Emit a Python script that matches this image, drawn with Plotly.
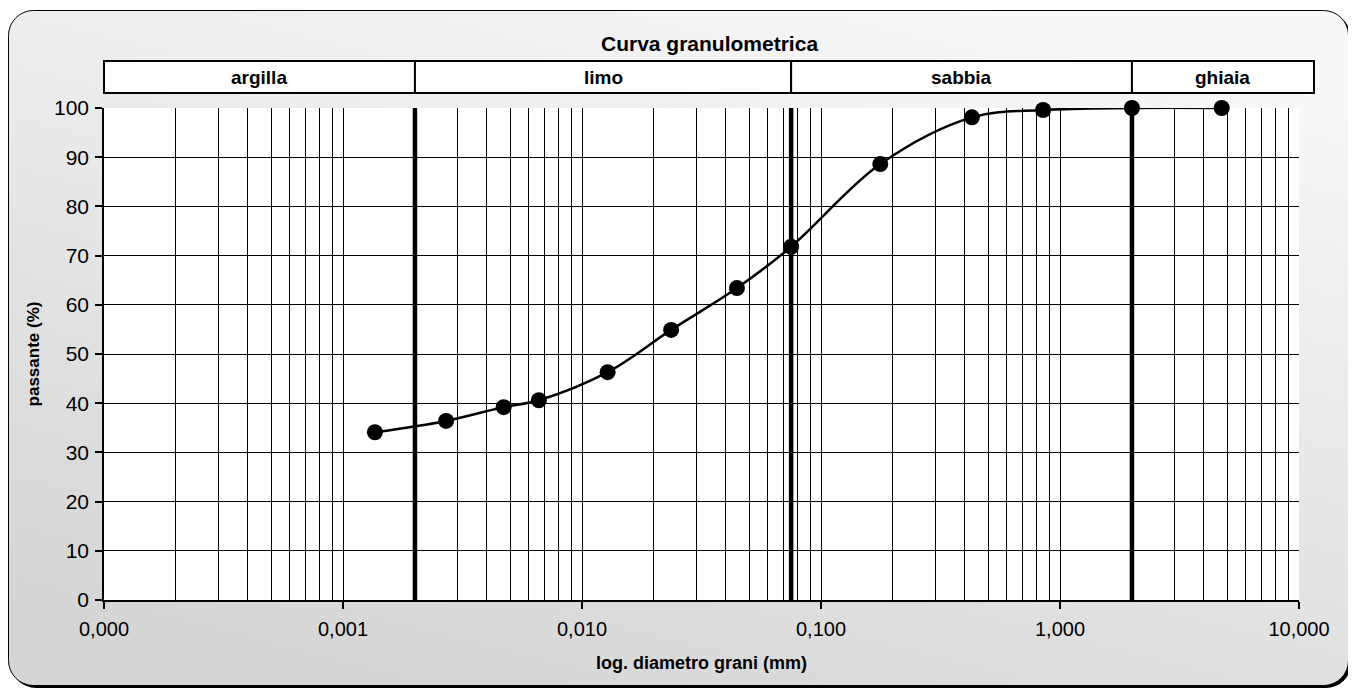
import base64
import math
import plotly.graph_objects as go

# ---------------- data ----------------
diametro_mm = [0.00136, 0.0027, 0.0047, 0.0066, 0.0128, 0.0236, 0.0445, 0.075,
               0.177, 0.428, 0.85, 2.0, 4.75]
passante_pct = [34.1, 36.4, 39.2, 40.6, 46.3, 54.9, 63.4, 71.8,
                88.6, 98.1, 99.6, 100.0, 100.0]

classi = ["argilla", "limo", "sabbia", "ghiaia"]
limiti_classi = [0.002, 0.075, 2.0]          # class boundaries (mm)
decadi = [0.0001, 0.001, 0.01, 0.1, 1, 10]
decadi_label = ["0,000", "0,001", "0,010", "0,100", "1,000", "10,000"]
y_ticks = list(range(0, 101, 10))

title = "Curva granulometrica"
x_title = "log. diametro grani (mm)"
y_title = "passante (%)"

# ---------------- geometry ----------------
W, H = 1356, 689
OFF = 8                      # page body margin
ML, MR, MT, MB = 96, 65, 100, 97
PW, PH = W - ML - MR, H - MT - MB
XMIN, XMAX = -4, 1


def xp(v):
    """value (mm) -> paper x through the log axis range"""
    return (math.log10(v) - XMIN) / (XMAX - XMIN)


def px_x(px):
    return (px - OFF - ML) / PW


def px_y(py):
    return (H - MB - (py - OFF)) / PH


SANS = "Liberation Sans, Arial, sans-serif"

# background frame as an svg image (gradient + rounded border + shadow)
svg = f"""<svg xmlns='http://www.w3.org/2000/svg' width='{W}' height='{H}' viewBox='0 0 {W} {H}' preserveAspectRatio='none'>
<defs><linearGradient id='g' x1='0.25' y1='1' x2='0.75' y2='0'>
<stop offset='0' stop-color='#d5d5d5'/><stop offset='1' stop-color='#f8f8f8'/></linearGradient></defs>
<rect x='3' y='5' width='1340' height='675' rx='25' ry='25' fill='#000'/>
<rect x='0.5' y='2.5' width='1340' height='675' rx='25' ry='25' fill='url(#g)' stroke='#000' stroke-width='1'/>
</svg>"""
svg_uri = "data:image/svg+xml;base64," + base64.b64encode(svg.encode()).decode()

minor_vals = [m * d for d in decadi[:-1] for m in range(2, 10)]

fig = go.Figure()

# thick class boundary lines
for b in limiti_classi:
    fig.add_trace(go.Scatter(x=[b, b], y=[0, 100], mode="lines",
                             line=dict(color="black", width=4.5),
                             hoverinfo="skip", showlegend=False))

# grading curve
fig.add_trace(go.Scatter(x=diametro_mm, y=passante_pct, mode="lines+markers",
                         line=dict(color="black", width=2.5, shape="spline", smoothing=1.0),
                         marker=dict(color="black", size=16),
                         cliponaxis=False, showlegend=False))

shapes = [
    # white plot area above the background image
    dict(type="rect", xref="paper", yref="paper", x0=0, x1=1, y0=0, y1=1,
         fillcolor="white", line=dict(width=0), layer="below"),
]

# header class boxes
box_y0, box_y1 = px_y(93), px_y(61)
edges = [0.0, xp(limiti_classi[0]), xp(limiti_classi[1]), xp(limiti_classi[2]), px_x(1314)]
annotations = []
for i, name in enumerate(classi):
    shapes.append(dict(type="rect", xref="paper", yref="paper",
                       x0=edges[i], x1=edges[i + 1], y0=box_y0, y1=box_y1,
                       fillcolor="white", line=dict(color="black", width=2), layer="above"))
    annotations.append(dict(text=name, xref="paper", yref="paper",
                            x=(edges[i] + edges[i + 1]) / 2, y=(box_y0 + box_y1) / 2,
                            xanchor="center", yanchor="middle", showarrow=False,
                            font=dict(family=SANS, size=19, color="black", weight="bold")))

annotations.append(dict(text=title, xref="paper", yref="paper",
                        x=(edges[0] + edges[-1]) / 2, y=px_y(44),
                        xanchor="center", yanchor="middle", showarrow=False,
                        font=dict(family=SANS, size=21, color="black", weight="bold")))

fig.update_layout(
    width=W, height=H,
    margin=dict(l=ML, r=MR, t=MT, b=MB, autoexpand=False),
    paper_bgcolor="white", plot_bgcolor="white",
    showlegend=False,
    shapes=shapes,
    annotations=annotations,
    images=[dict(source=svg_uri, xref="paper", yref="paper",
                 x=-ML / PW, y=(H - MB) / PH, sizex=W / PW, sizey=H / PH,
                 xanchor="left", yanchor="top", sizing="stretch", layer="below")],
    xaxis=dict(type="log", range=[XMIN, XMAX],
               tickvals=decadi, ticktext=decadi_label,
               showline=True, linecolor="black", linewidth=1.5,
               ticks="outside", ticklen=7, tickcolor="black", tickwidth=1.5,
               ticklabelstandoff=3,
               showgrid=True, gridcolor="black", gridwidth=1, zeroline=False,
               minor=dict(tickvals=minor_vals, showgrid=True, gridcolor="black",
                          gridwidth=1, ticks=""),
               tickfont=dict(family=SANS, size=20, color="black"),
               title=dict(text=x_title, standoff=18,
                          font=dict(family=SANS, size=18, color="black", weight="bold"))),
    yaxis=dict(range=[0, 100], tickvals=y_ticks,
               showline=True, linecolor="black", linewidth=1.5,
               ticks="outside", ticklen=7, tickcolor="black", tickwidth=1.5,
               ticklabelstandoff=2,
               showgrid=True, gridcolor="black", gridwidth=1, zeroline=False,
               tickfont=dict(family=SANS, size=21, color="black"),
               title=dict(text=y_title, standoff=10,
                          font=dict(family=SANS, size=17, color="black", weight="bold"))),
)

fig.write_html("out.html")
